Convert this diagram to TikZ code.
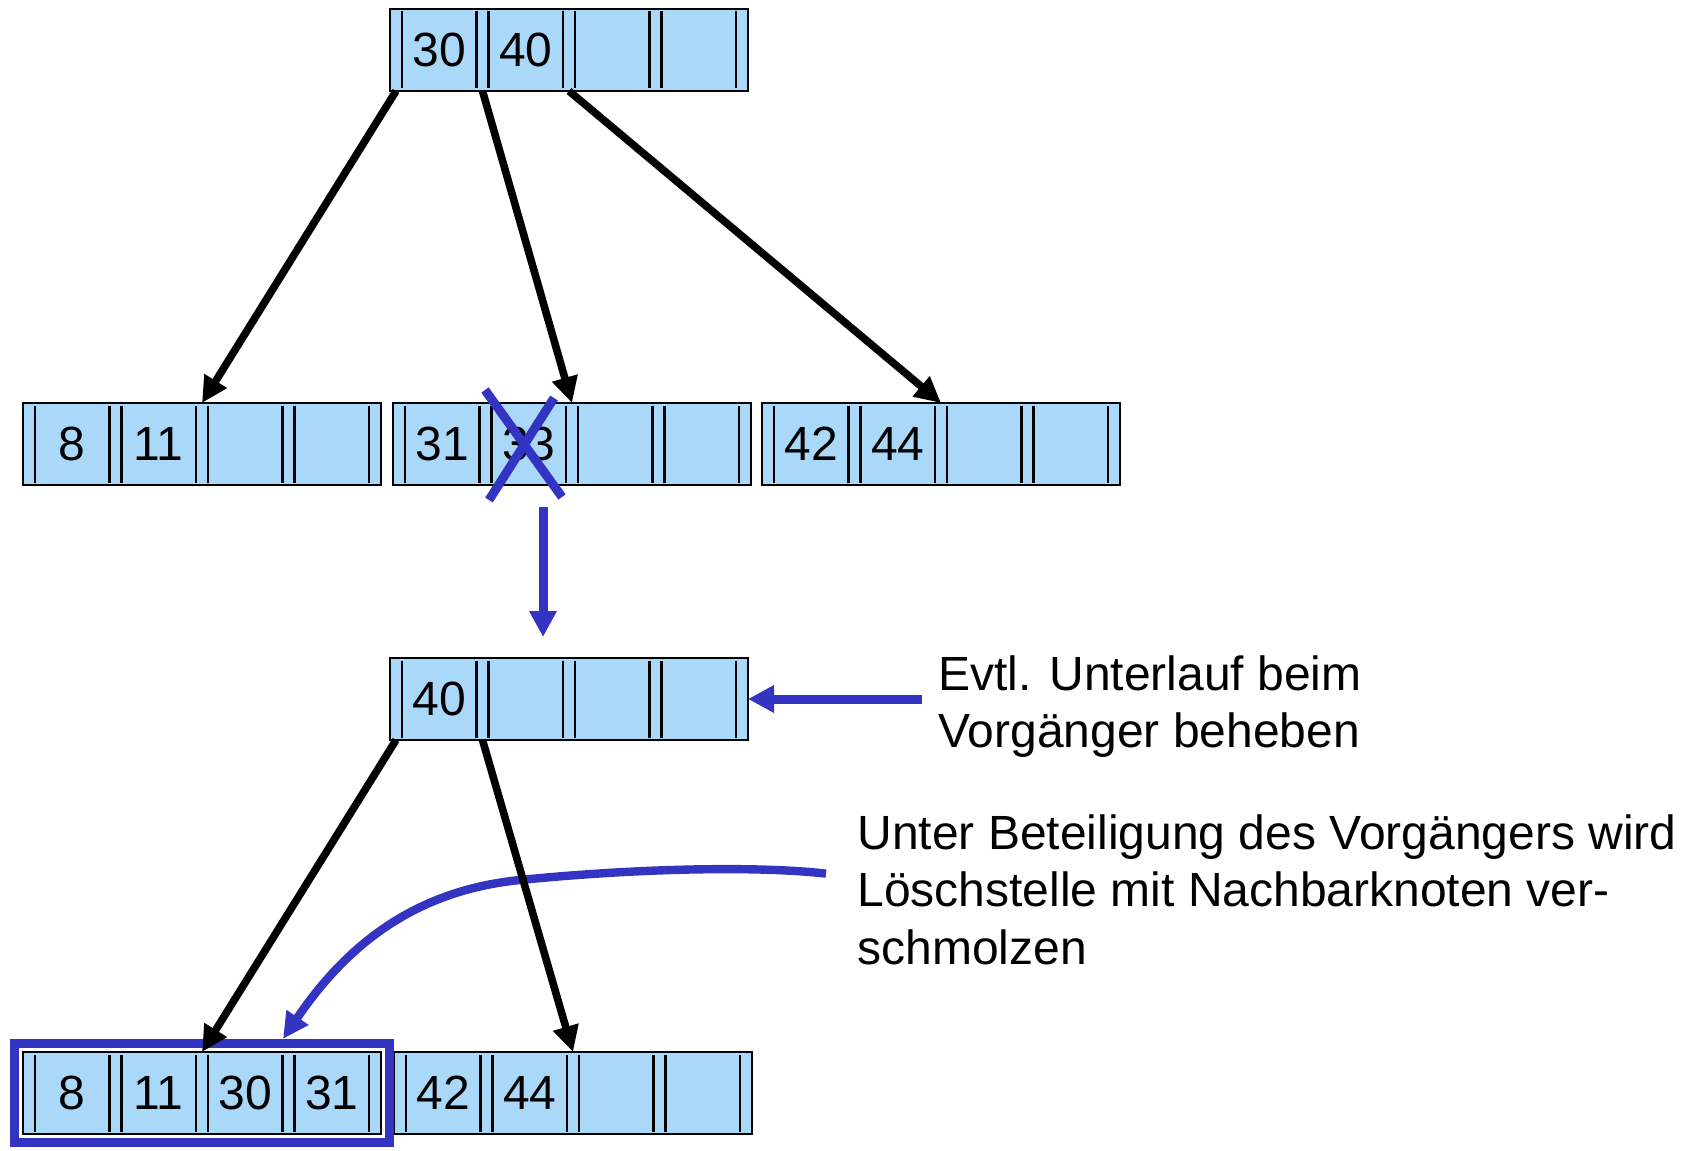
\documentclass[tikz,border=0pt]{standalone}
\usepackage{fontspec}
\setmainfont{Liberation Sans}
\usepackage{tikz}
\usetikzlibrary{calc}
\usetikzlibrary{fit}
\usetikzlibrary{arrows.meta}

\definecolor{keyblue}{RGB}{170,216,248}
\definecolor{markblue}{RGB}{52,52,194}

\tikzset{
    btbox/.style={draw=black, line width=1.1pt, fill=keyblue, minimum width=179pt,
        minimum height=41pt, inner sep=0pt, outer sep=0pt},
    slotline/.style={line width=1.3pt},
    keytext/.style={inner sep=0pt, font=\fontsize{24}{28.8}\selectfont},
    notetext/.style={inner sep=0pt, align=left, font=\fontsize{24}{28.8}\selectfont},
    treeedge/.style={line width=3.8pt, -{Triangle[length=13pt,width=12.5pt]}},
    bluearrow/.style={draw=markblue, line width=4.5pt, -{Triangle[length=13pt,width=13pt]}},
    bluecurve/.style={draw=markblue, line width=4.2pt, -{Triangle[length=13pt,width=12.5pt]}},
    crossline/.style={draw=markblue, line width=4.5pt},
    mergeframe/.style={draw=markblue, line width=4.7pt, inner sep=4.2pt}
}

% name, x, y (upper left corner in px), four keys
\newcommand{\btreenode}[7]{%
    \node[btbox, anchor=north west] (#1) at (#2,#3) {};
    \begin{scope}[shift={(#2,#3)}]
        \foreach \i in {0,...,4} {
            \coordinate (#1-t\i) at (\i*86.5+6,0);
            \coordinate (#1-b\i) at (\i*86.5+6,82);
        }
        \foreach \i in {1,...,4}
            \draw[slotline] (\i*86.5,2.5) -- (\i*86.5,79.5);
        \foreach \i in {0,...,3}
            \draw[slotline] (\i*86.5+12,2.5) -- (\i*86.5+12,79.5);
        \node[keytext] (#1-k1) at (49.25,41) {#4};
        \node[keytext] (#1-k2) at (135.75,41) {#5};
        \node[keytext] (#1-k3) at (222.25,41) {#6};
        \node[keytext] (#1-k4) at (308.75,41) {#7};
    \end{scope}
}

\begin{document}
\begin{tikzpicture}[x=0.5pt, y=-0.5pt]
    \useasboundingbox (0,0) rectangle (1700,1150);

    \btreenode{root}{390}{9}{30}{40}{}{}
    \btreenode{a}{23}{403}{8}{11}{}{}
    \btreenode{b}{393}{403}{31}{33}{}{}
    \btreenode{c}{762}{403}{42}{44}{}{}
    \btreenode{mid}{390}{658}{40}{}{}{}
    \btreenode{ba}{23}{1052}{8}{11}{30}{31}
    \btreenode{bb}{394}{1052}{42}{44}{}{}

    \node[mergeframe, fit=(ba)] (frame) {};

    \node[notetext, anchor=north west] (evtl) at (938,655)
        {Evtl. Unterlauf beim\\Vorgänger beheben};
    \node[notetext, anchor=north west] (merge) at (857,814)
        {Unter Beteiligung des Vorgängers wird\\Löschstelle mit Nachbarknoten ver-\\schmolzen};

    \draw[crossline] (485,390) -- (562,497);
    \draw[crossline] (554,398) -- (489,500);

    \draw[bluearrow] ($(b.south)+(-14.5pt,-11pt)$) -- ($(mid.north)+(-13pt,10.5pt)$);
    \draw[bluearrow] ($(mid.east -| evtl.west)+(-8pt,0)$) -- (mid.east);
    \draw[bluecurve] ($(merge.west)+(-15.5pt,8pt)$) .. controls (760,866) and (640,868) .. (520,880)
        .. controls (420,890) and (350,940) .. ($(frame.north)+(40.5pt,0)$);

    \draw[treeedge] (root-b0) -- (a-t2);
    \draw[treeedge] (root-b1) -- (b-t2);
    \draw[treeedge] (root-b2) -- (c-t2);
    \draw[treeedge] (mid-b0) -- (ba-t2);
    \draw[treeedge] (mid-b1) -- (bb-t2);
\end{tikzpicture}
\end{document}
